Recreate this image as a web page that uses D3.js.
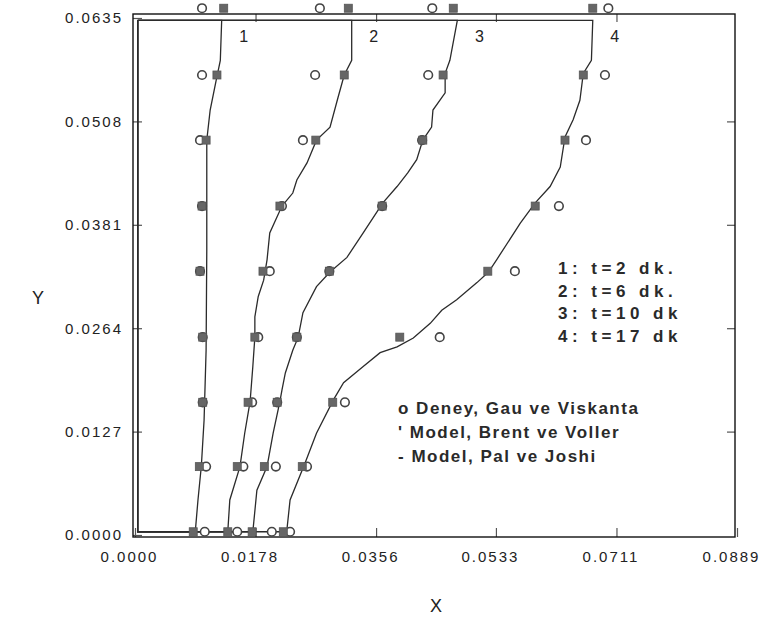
<!DOCTYPE html>
<html>
<head>
<meta charset="utf-8">
<script src="https://cdn.jsdelivr.net/npm/d3@7"></script>
<style>
  body { margin: 0; background: #fff; }
  text { font-family: "Liberation Sans", Arial, sans-serif; }
</style>
</head>
<body>
<svg width="773" height="622"></svg>
<script>
// axis ticks (labels as printed on the original, incl. its "0.0264")
const xTicks = [0, 0.0178, 0.0356, 0.0533, 0.0711, 0.0889];
const xTickLabels = ["0.0000", "0.0178", "0.0356", "0.0533", "0.0711", "0.0889"];
const yTicks = [0, 0.0127, 0.0254, 0.0381, 0.0508, 0.0635];
const yTickLabels = ["0.0000", "0.0127", "0.0264", "0.0381", "0.0508", "0.0635"];

// heights where the markers sit
const rowY = [0.0004, 0.0084, 0.0163, 0.0243, 0.0324, 0.0404, 0.0485, 0.0565, 0.0647];

// o Deney, Gau ve Viskanta (x at each row, bottom -> top)
const deney1 = [0.0103, 0.0105, 0.0100, 0.0100, 0.0096, 0.0099, 0.0096, 0.0099, 0.0099];
const deney2 = [0.0151, 0.0160, 0.0173, 0.0182, 0.0199, 0.0217, 0.0248, 0.0266, 0.0273];
const deney3 = [0.0202, 0.0208, 0.0210, 0.0239, 0.0287, 0.0365, 0.0424, 0.0433, 0.0439];
const deney4 = [0.0229, 0.0254, 0.0310, 0.0450, 0.0561, 0.0626, 0.0666, 0.0694, 0.0699];

// ' Model, Brent ve Voller
const brent1 = [0.0086, 0.0095, 0.0100, 0.0100, 0.0096, 0.0099, 0.0105, 0.0121, 0.0131];
const brent2 = [0.0137, 0.0151, 0.0167, 0.0177, 0.0189, 0.0214, 0.0267, 0.0309, 0.0315];
const brent3 = [0.0173, 0.0191, 0.0210, 0.0239, 0.0287, 0.0365, 0.0425, 0.0455, 0.0470];
const brent4 = [0.0219, 0.0247, 0.0292, 0.0391, 0.0521, 0.0591, 0.0635, 0.0662, 0.0676];

// - Model, Pal ve Joshi  (melt front, top -> bottom)
const pal1 = [[0.0128,0.0632],[0.0126,0.0583],[0.0120,0.0559],[0.0111,0.0522],[0.0106,0.0485],
  [0.0106,0.0448],[0.0106,0.0350],[0.0105,0.0227],[0.0102,0.0141],[0.0098,0.0085],[0.0093,0.0043],[0.0089,0.0004]];
const pal2 = [[0.0320,0.0632],[0.0320,0.0583],[0.0309,0.0565],[0.0300,0.0538],[0.0288,0.0501],
  [0.0268,0.0485],[0.0254,0.0457],[0.0239,0.0436],[0.0233,0.0420],[0.0217,0.0404],[0.0199,0.0371],
  [0.0195,0.0338],[0.0190,0.0313],[0.0182,0.0293],[0.0177,0.0268],[0.0177,0.0243],[0.0174,0.0207],
  [0.0170,0.0164],[0.0162,0.0125],[0.0155,0.0084],[0.0140,0.0043],[0.0137,0.0004]];
const pal3 = [[0.0476,0.0632],[0.0465,0.0583],[0.0458,0.0567],[0.0458,0.0543],[0.0440,0.0522],
  [0.0438,0.0501],[0.0425,0.0485],[0.0416,0.0461],[0.0403,0.0445],[0.0387,0.0428],[0.0366,0.0408],
  [0.0337,0.0371],[0.0313,0.0341],[0.0288,0.0323],[0.0268,0.0305],[0.0248,0.0273],[0.0241,0.0243],
  [0.0233,0.0227],[0.0222,0.0199],[0.0217,0.0178],[0.0214,0.0164],[0.0204,0.0125],[0.0195,0.0084],
  [0.0180,0.0055],[0.0174,0.0004]];
const pal4 = [[0.0676,0.0632],[0.0674,0.0583],[0.0662,0.0567],[0.0657,0.0534],[0.0647,0.0510],
  [0.0635,0.0489],[0.0628,0.0452],[0.0613,0.0428],[0.0591,0.0408],[0.0569,0.0383],[0.0534,0.0338],
  [0.0522,0.0323],[0.0505,0.0310],[0.0475,0.0289],[0.0453,0.0276],[0.0436,0.0260],[0.0411,0.0242],
  [0.0387,0.0231],[0.0362,0.0224],[0.0337,0.0207],[0.0308,0.0187],[0.0293,0.0166],[0.0268,0.0125],
  [0.0251,0.0088],[0.0229,0.0043],[0.0224,0.0004]];

// cavity walls the fronts run along
const wallLeft = 0.0004, wallTop = 0.0632, wallBottom = 0.0004;

const timeLabels = ["1: t=2 dk.", "2: t=6 dk.", "3: t=10 dk", "4: t=17 dk"];
const sourceLabels = ["o Deney, Gau ve Viskanta", "' Model, Brent ve Voller", "- Model, Pal ve Joshi"];
const curveNames = ["1", "2", "3", "4"];

const svg = d3.select("svg");
const x = d3.scaleLinear().domain([0, 0.0889]).range([135, 737]);
const y = d3.scaleLinear().domain([0, 0.0635]).range([535, 18]);

const frameL = x.range()[0] - 2, frameR = x.range()[1] - 2;
const frameT = y.range()[1] - 4, frameB = y.range()[0] + 2;

// axes, ticks pointing inwards
let gx = svg.append("g").attr("transform", `translate(0,${frameB})`)
  .call(d3.axisBottom(x).tickValues(xTicks).tickFormat((d, i) => xTickLabels[i])
    .tickSizeInner(-9).tickSizeOuter(0).tickPadding(14));
let gy = svg.append("g").attr("transform", `translate(${frameL},0)`)
  .call(d3.axisLeft(y).tickValues(yTicks).tickFormat((d, i) => yTickLabels[i])
    .tickSizeInner(-9).tickSizeOuter(0).tickPadding(10));
let gt = svg.append("g").attr("transform", `translate(0,${frameT})`)
  .call(d3.axisTop(x).tickValues(xTicks.slice(1, -1)).tickFormat("").tickSizeInner(-8).tickSizeOuter(0));
let gr = svg.append("g").attr("transform", `translate(${frameR},0)`)
  .call(d3.axisRight(y).tickValues(yTicks.slice(1, -1)).tickFormat("").tickSizeInner(-8).tickSizeOuter(0));

[gx, gy, gt, gr].forEach(g => {
  g.select(".domain").remove();
  g.selectAll(".tick line").attr("stroke", "#555").attr("stroke-width", 1.2);
  g.selectAll(".tick text").attr("fill", "#222").style("font-size", "15px").style("letter-spacing", "2px");
});
gx.selectAll(".tick text").attr("dx", -6);

svg.append("rect")
  .attr("x", frameL).attr("y", frameT)
  .attr("width", frameR - frameL).attr("height", frameB - frameT)
  .attr("fill", "none").attr("stroke", "#111").attr("stroke-width", 1.4);

// melt fronts, each closed along the top, bottom and left walls
const line = d3.line().x(d => x(d[0])).y(d => y(d[1]));
[pal1, pal2, pal3, pal4].forEach(p => {
  const pts = [[wallLeft, wallTop]].concat(p, [[wallLeft, wallBottom], [wallLeft, wallTop]]);
  svg.append("path").attr("d", line(pts))
    .attr("fill", "none").attr("stroke", "#2b2b2b").attr("stroke-width", 1.3);
});

// experiment circles
[deney1, deney2, deney3, deney4].forEach(s => {
  svg.append("g").selectAll("circle").data(s).enter().append("circle")
    .attr("cx", d => x(d)).attr("cy", (d, i) => y(rowY[i])).attr("r", 4.3)
    .attr("fill", "#fff").attr("stroke", "#444").attr("stroke-width", 1.6);
});

// model squares
[brent1, brent2, brent3, brent4].forEach(s => {
  svg.append("g").selectAll("rect").data(s).enter().append("rect")
    .attr("x", d => x(d) - 4).attr("y", (d, i) => y(rowY[i]) - 4)
    .attr("width", 8).attr("height", 8)
    .attr("fill", "#666").attr("stroke", "#555").attr("stroke-width", 0.8);
});

// curve numbers near the top of each front
[pal1, pal2, pal3, pal4].forEach((p, i) => {
  svg.append("text").attr("x", x(p[0][0]) + 22).attr("y", 42)
    .attr("text-anchor", "middle").attr("fill", "#222").style("font-size", "16px")
    .text(curveNames[i]);
});

svg.append("g").selectAll("text").data(timeLabels).enter().append("text")
  .attr("x", 558).attr("y", (d, i) => 274 + i * 22.5)
  .attr("fill", "#2a2a2a").style("font-size", "17px").style("font-weight", "bold")
  .style("letter-spacing", "4.5px")
  .text(d => d);

svg.append("g").selectAll("text").data(sourceLabels).enter().append("text")
  .attr("x", 398).attr("y", (d, i) => 414 + i * 24)
  .attr("fill", "#2a2a2a").style("font-size", "17px").style("font-weight", "bold")
  .style("letter-spacing", "1.5px")
  .text(d => d);

// axis titles
svg.append("text").attr("x", x(0.0889 / 2)).attr("y", 612).attr("text-anchor", "middle")
  .attr("fill", "#222").style("font-size", "18px").text("X");
svg.append("text").attr("x", 38).attr("y", 304).attr("text-anchor", "middle")
  .attr("fill", "#222").style("font-size", "18px").text("Y");
</script>
</body>
</html>
